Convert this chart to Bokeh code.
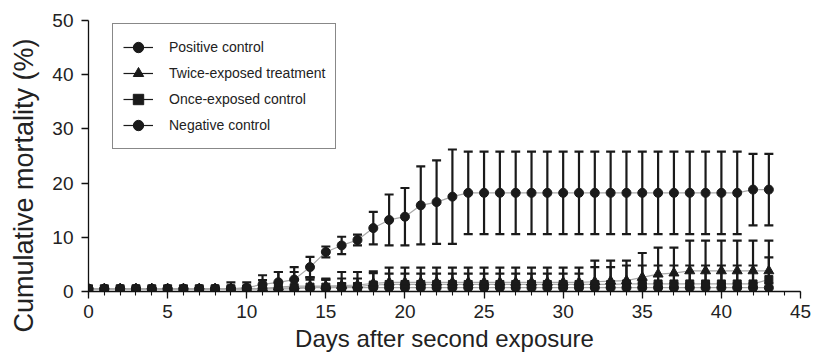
from bokeh.plotting import figure
from bokeh.models import (Range1d, SingleIntervalTicker, Legend, LegendItem,
                          ColumnDataSource, Title)
from bokeh.embed import file_html
from bokeh.resources import INLINE

# ---------------- data ----------------
days = list(range(44))

pos_mean = [0.5] * 9 + [0.5, 0.7, 1.3, 1.7, 2.2, 4.5, 7.3, 8.5, 9.5, 11.7, 13.2,
                        13.8, 15.9, 16.5, 17.5] + [18.2] * 18 + [18.8, 18.8]
pos_sd = [0] * 9 + [1.2, 1.0, 1.7, 1.9, 2.3, 1.9, 1.0, 1.6, 1.0, 3.0, 4.7,
                    5.3, 7.2, 7.7, 8.7] + [7.6] * 18 + [6.6, 6.6]

twice_mean = [0.5] * 11 + [0.6, 0.8, 1.0, 1.0, 1.0, 1.1, 1.2, 1.5] + [1.7] * 13 + \
             [1.8, 1.9, 2.0, 2.6, 3.2, 3.4] + [3.8] * 6
twice_sd = [0] * 11 + [1.5, 2.8, 2.6, 1.6, 1.2, 2.5, 2.4, 2.2] + [2.7] * 13 + \
           [3.9, 3.8, 3.7, 4.5, 4.9, 4.7] + [5.6] * 6

once_mean = [0.5] * 11 + [0.5, 0.6, 0.7, 0.8, 0.8, 0.9, 0.9, 1.2] + [1.3] * 15 + \
            [1.4] * 9 + [2.2]
once_sd = [0] * 11 + [0, 1.0, 1.5, 1.8, 1.4, 1.5, 1.5, 2.2] + [2.0] * 13 + \
          [3.2] * 2 + [3.4] * 9 + [4.1]

neg_mean = [0.5] * 14 + [0.7] * 30
neg_sd = [0] * 14 + [1.5, 1.7] + [0.8] * 28

series_names = ["Positive control", "Twice-exposed treatment",
                "Once-exposed control", "Negative control"]
series_markers = ["circle", "triangle", "square", "circle"]
series_means = [pos_mean, twice_mean, once_mean, neg_mean]
series_sds = [pos_sd, twice_sd, once_sd, neg_sd]

x_label = "Days after second exposure"
y_label = "Cumulative mortality (%)"

# ---------------- figure ----------------
FONT = "Liberation Sans"
INK = "#1a1a1a"
TXT = "#222222"

p = figure(width=816, height=353, output_backend="svg", toolbar_location=None,
           x_range=Range1d(0, 45), y_range=Range1d(0, 50),
           min_border_left=87, min_border_right=16, min_border_top=20,
           min_border_bottom=61)
p.outline_line_color = None
p.grid.visible = False

p.xaxis.ticker = SingleIntervalTicker(interval=5, num_minor_ticks=5)
p.yaxis.ticker = SingleIntervalTicker(interval=10, num_minor_ticks=0)
for ax in (p.xaxis, p.yaxis):
    ax.axis_line_color = "#111111"
    ax.axis_line_width = 1.3
    ax.major_tick_line_color = "#111111"
    ax.major_tick_line_width = 1.3
    ax.major_tick_out = 7
    ax.major_tick_in = 0
    ax.minor_tick_line_color = "#111111"
    ax.minor_tick_line_width = 1.1
    ax.minor_tick_out = 4
    ax.minor_tick_in = 0
    ax.major_label_text_font = FONT
    ax.major_label_text_font_size = "19px"
    ax.major_label_text_color = TXT
p.yaxis.minor_tick_line_color = None
p.xaxis.major_label_standoff = 6
p.yaxis.major_label_standoff = 8

# axis titles as side titles (placed after the axes, outside them)
xtitle = Title(text=x_label, align="center", vertical_align="bottom",
               standoff=4, text_font=FONT, text_font_size="24px",
               text_font_style="normal", text_color=TXT)
p.add_layout(xtitle, "below")
ytitle = Title(text=y_label, align="left", offset=-41, vertical_align="top",
               standoff=17, text_font=FONT, text_font_size="27px",
               text_font_style="normal", text_color=TXT)
p.add_layout(ytitle, "left")

# connecting lines (gray)
for means in series_means[::-1]:
    p.line(days, means, line_color="#a8a8a8", line_width=1.2)

# error bars (black), drawn as glyphs so they are clipped to the frame
for means, sds in zip(series_means[::-1], series_sds[::-1]):
    xs = [d for d, s in zip(days, sds) if s > 0]
    lo = [m - s for m, s in zip(means, sds) if s > 0]
    hi = [m + s for m, s in zip(means, sds) if s > 0]
    src = ColumnDataSource(dict(x=xs, lo=lo, hi=hi))
    p.segment(x0="x", y0="lo", x1="x", y1="hi", source=src,
              line_color=INK, line_width=2.2)
    p.scatter(x="x", y="hi", source=src, marker="dash", size=9,
              line_color=INK, line_width=2.2)
    p.scatter(x="x", y="lo", source=src, marker="dash", size=9,
              line_color=INK, line_width=2.2)

# markers
sizes = {"circle": 9, "triangle": 10, "square": 8}
for means, mk in zip(series_means[::-1], series_markers[::-1]):
    p.scatter(days, means, marker=mk, size=sizes[mk],
              fill_color=INK, line_color=INK)

# legend with black line + marker glyphs (dummy renderers outside range)
items = []
for name, mk in zip(series_names, series_markers):
    lr = p.line([-10, -9], [-10, -10], line_color=INK, line_width=1.2)
    sr = p.scatter([-10], [-10], marker=mk, size=sizes[mk] - 1,
                   fill_color=INK, line_color=INK)
    items.append(LegendItem(label=name, renderers=[lr, sr]))

legend = Legend(items=items, location=(24, 142))
legend.margin = 0
legend.padding = 10
legend.spacing = 0
legend.label_height = 26
legend.glyph_height = 26
legend.glyph_width = 30
legend.label_standoff = 16
legend.label_text_font = FONT
legend.label_text_font_size = "14px"
legend.label_text_color = TXT
legend.border_line_color = "#111111"
legend.border_line_width = 1.2
legend.background_fill_color = "white"
legend.background_fill_alpha = 1.0
p.add_layout(legend)

open("out.html", "w").write(file_html(p, INLINE))
